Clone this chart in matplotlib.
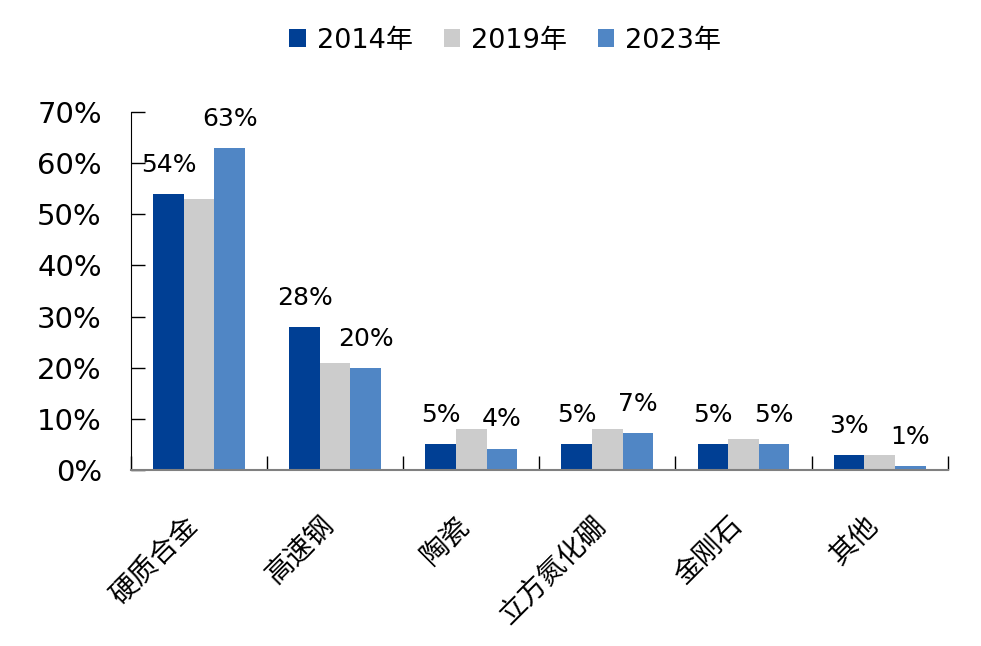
import numpy as np
import matplotlib
matplotlib.use("Agg")
import matplotlib.pyplot as plt
from matplotlib.ticker import FuncFormatter, FixedLocator

# 字体: 数字用 DejaVu, 中文回退到 Noto CJK
plt.rcParams['font.family'] = ['DejaVu Sans', 'Noto Sans CJK SC']

# --------------------------------------------------
# 数据
categories = ['硬质合金', '高速钢', '陶瓷', '立方氮化硼', '金刚石', '其他']
years = ['2014年', '2019年', '2023年']
share_2014 = [54, 28, 5, 5, 5, 3]
share_2019 = [53, 21, 8, 8, 6, 3]
share_2023 = [63, 20, 4.2, 7.2, 5, 0.7]
labels_2014 = ['54%', '28%', '5%', '5%', '5%', '3%']
labels_2023 = ['63%', '20%', '4%', '7%', '5%', '1%']
# --------------------------------------------------

colors = ['#003F94', '#CCCCCC', '#5086C5']
series = [share_2014, share_2019, share_2023]

fig = plt.figure(figsize=(9.81, 6.46), dpi=100)
ax = fig.add_axes([0.1335, 0.2724, 0.966 - 0.1335, 0.8266 - 0.2724])

x = np.arange(len(categories))
w = 0.225
bars = []
for i, (vals, col, yr) in enumerate(zip(series, colors, years)):
    b = ax.bar(x + (i - 1) * w, vals, width=w, color=col, label=yr,
               edgecolor='none')
    bars.append(b)

# 数据标签 (只标 2014 和 2023)
for b, labs in ((bars[0], labels_2014), (bars[2], labels_2023)):
    for rect, lab in zip(b, labs):
        ax.annotate(lab, (rect.get_x() + rect.get_width() / 2, rect.get_height()),
                    xytext=(0, 21), textcoords='offset points',
                    ha='center', va='center', fontsize=18, color='black')

ax.set_xlim(-0.5, len(categories) - 0.5)
ax.set_ylim(0, 70)
ax.yaxis.set_major_locator(FixedLocator(np.arange(0, 71, 10)))
ax.yaxis.set_major_formatter(FuncFormatter(lambda v, p: f'{int(v)}%'))
ax.tick_params(axis='y', direction='in', length=10, width=1, labelsize=21, pad=21)

# x 轴: 刻度在类别之间
ax.set_xticks(x)
ax.set_xticklabels([])
ax.tick_params(axis='x', which='major', length=0)
ax.set_xticks(np.arange(-0.5, len(categories), 1), minor=True)
ax.tick_params(axis='x', which='minor', direction='in', length=10, width=1, color='black')
for xi, cat in zip(x, categories):
    ax.text(xi - 0.04, -10, cat, rotation=45, ha='right', va='center',
            rotation_mode='anchor', fontsize=20, family='Noto Sans CJK SC',
            transform=ax.transData, clip_on=False)

ax.spines['top'].set_visible(False)
ax.spines['right'].set_visible(False)
ax.spines['bottom'].set_color('#808080')
ax.spines['bottom'].set_linewidth(1.5)
ax.spines['left'].set_color('black')

leg = fig.legend(loc='upper center', bbox_to_anchor=(0.515, 0.995), ncol=3,
                 frameon=False, fontsize=19.5, handlelength=0.6, handleheight=0.6,
                 handletextpad=0.4, columnspacing=1.15)

fig.savefig('out.png', dpi=100, facecolor='white')
